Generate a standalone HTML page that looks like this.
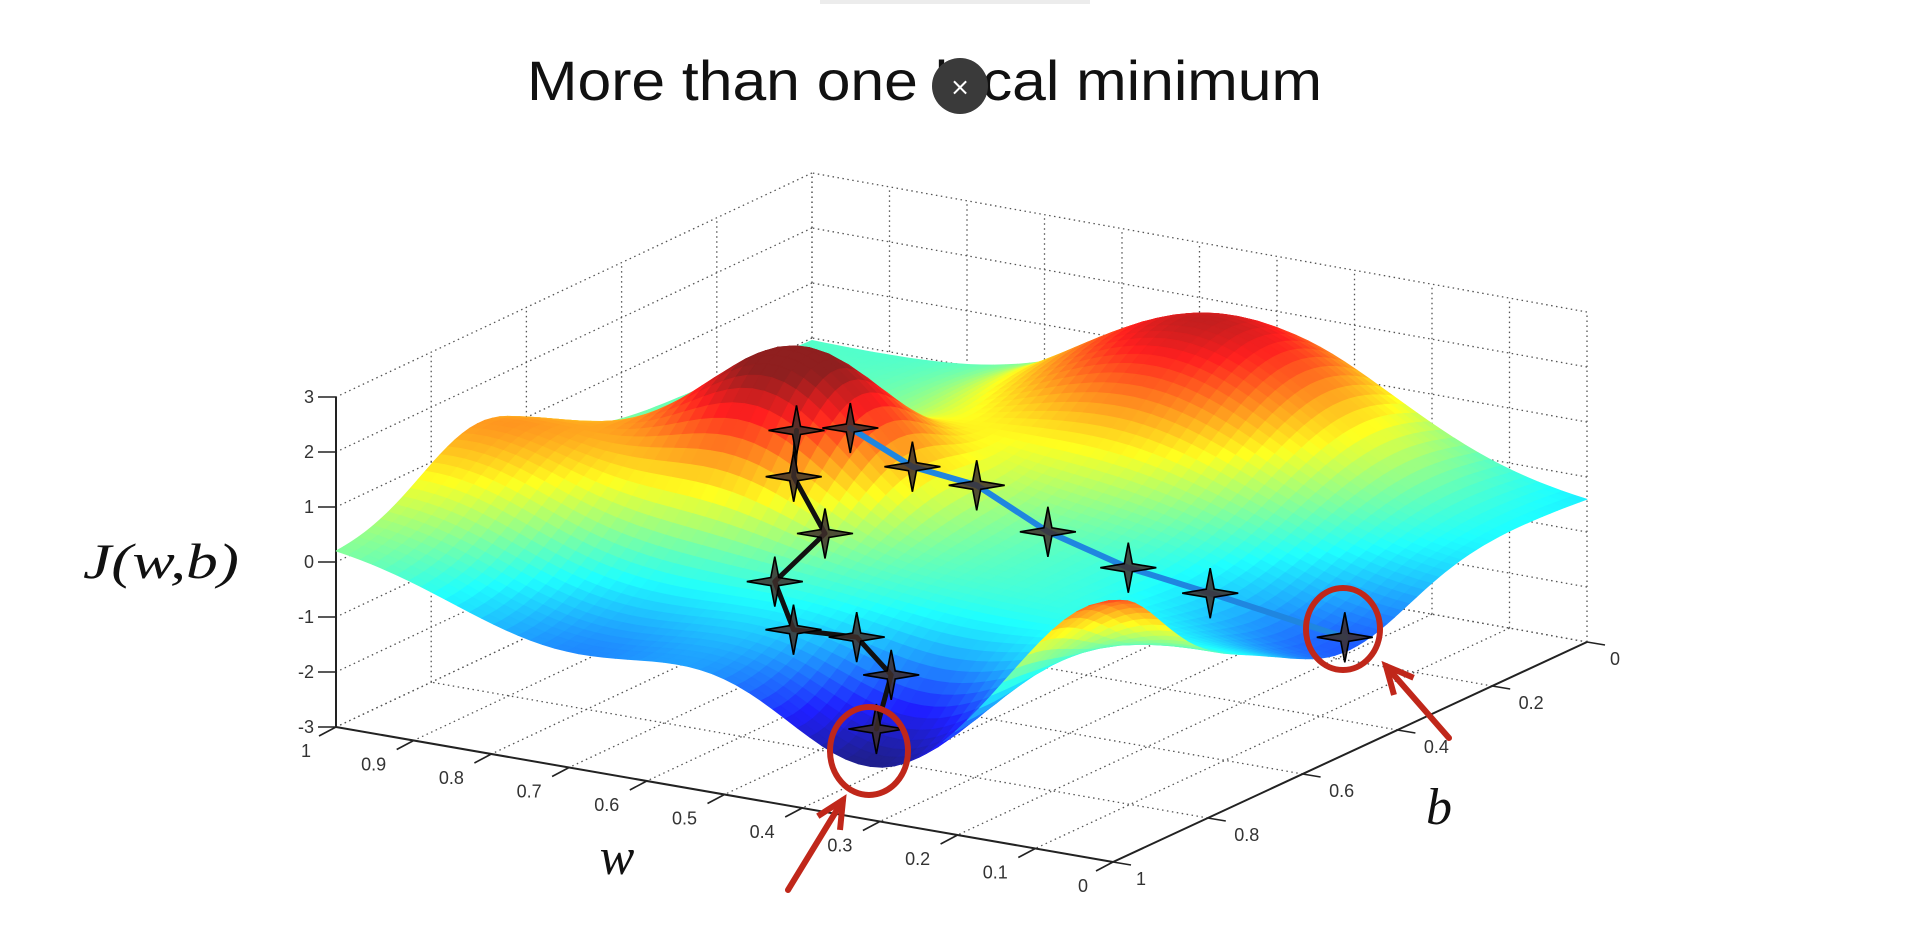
<!DOCTYPE html>
<html><head><meta charset="utf-8"><title>More than one local minimum</title>
<style>
html,body{margin:0;padding:0;background:#fff;}
svg{display:block;}
</style></head>
<body>
<svg id="chart" width="1920" height="926" viewBox="0 0 1920 926" xmlns="http://www.w3.org/2000/svg">
<rect x="820" y="0" width="270" height="4" fill="#ececec"/>
<text x="527" y="100" textLength="795" lengthAdjust="spacingAndGlyphs" font-family="Liberation Sans, sans-serif" font-size="56" fill="#111">More than one local minimum</text>
<g>
<circle cx="960" cy="86" r="28" fill="#3a3a3a"/>
<text x="960" y="95" text-anchor="middle" font-family="DejaVu Sans, sans-serif" font-size="24" fill="#fff">×</text>
</g>
<g id="grid"></g>
<g id="axes"></g>
<g id="surface"></g>
<g id="paths"></g>
<g id="annot"></g>
<text x="83" y="578" textLength="156" lengthAdjust="spacingAndGlyphs" font-family="Liberation Serif, serif" font-style="italic" font-size="50" fill="#111">J(w,b)</text>
<text x="617" y="874" text-anchor="middle" font-family="Liberation Serif, serif" font-style="italic" font-size="52" fill="#111">w</text>
<text x="1439" y="824" text-anchor="middle" font-family="Liberation Serif, serif" font-style="italic" font-size="52" fill="#111">b</text>
</svg>
<script>
// ---- data ----
const wTicks = [0,0.1,0.2,0.3,0.4,0.5,0.6,0.7,0.8,0.9,1];
const wTickLabels = ["0","0.1","0.2","0.3","0.4","0.5","0.6","0.7","0.8","0.9","1"];
const bTicks = [0,0.2,0.4,0.6,0.8,1];
const bTickLabels = ["0","0.2","0.4","0.6","0.8","1"];
const zTicks = [-3,-2,-1,0,1,2,3];
const zTickLabels = ["-3","-2","-1","0","1","2","3"];
// surface bumps (w, b, height, width)
const bumpW = [0.69, 0.42, 0.31, 0.0, 0.0, 0.97, 0.70];
const bumpB = [0.54, 0.11, 1.0, 0.51, 1.0, 0.70, 1.0];
const bumpAmp = [2.7, 2.5, -2.1, -0.9, 1.8, 1.15, -1.1];
const bumpSig = [0.11, 0.17, 0.12, 0.13, 0.10, 0.12, 0.15];
// base level at corners: (w=1,b=1), (w=0,b=1), (w=0,b=0), (w=1,b=0)
const cornerZ = [0.3, 0.0, -0.5, -0.05];
const colorMin = -2.0, colorMax = 2.5;
// descent paths
const blackW = [0.60,0.565,0.51,0.56,0.49,0.46,0.385,0.34];
const blackB = [0.685,0.748,0.772,0.796,0.871,0.787,0.837,0.942];
const blackZ = [2.1,1.6,0.8,-0.1,-0.5,-0.9,-1.2,-1.65];
const blueW = [0.56,0.485,0.426,0.393,0.29,0.19,0.0];
const blueB = [0.637,0.629,0.590,0.494,0.493,0.484,0.511];
const blueZ = [2.05,1.5,1.15,0.0,-0.4,-0.65,-0.87];

// ---- projection ----
const CA=[336,727], CB=[1113,862], CC=[1587,642], CD=[812,503];
const ZU = 55;
function floorPt(w,b){
  const x=(1-w)*(1-b)*CC[0]+w*(1-b)*CD[0]+(1-w)*b*CB[0]+w*b*CA[0];
  const y=(1-w)*(1-b)*CC[1]+w*(1-b)*CD[1]+(1-w)*b*CB[1]+w*b*CA[1];
  return [x,y];
}
function proj(w,b,z){const p=floorPt(w,b);return [p[0],p[1]-(z+3)*ZU];}
function J(w,b){
  let z=(w*b)*cornerZ[0]+((1-w)*b)*cornerZ[1]+((1-w)*(1-b))*cornerZ[2]+(w*(1-b))*cornerZ[3];
  for(let i=0;i<bumpW.length;i++){
    const d=(w-bumpW[i])**2+(b-bumpB[i])**2;
    z+=bumpAmp[i]*Math.exp(-d/(2*bumpSig[i]*bumpSig[i]));
  }
  return z;
}
function jet(t){
  t=Math.max(0,Math.min(1,t));
  const c=v=>Math.max(0,Math.min(1,v));
  let r=c(1.5-Math.abs(4*t-3)),g=c(1.5-Math.abs(4*t-2)),bl=c(1.5-Math.abs(4*t-1));
  const m=0.12;
  r=r*(1-m)+m;g=g*(1-m)+m;bl=bl*(1-m)+m;
  return `rgb(${Math.round(r*255)},${Math.round(g*255)},${Math.round(bl*255)})`;
}
const NS="http://www.w3.org/2000/svg";
function mk(tag,attrs,parent){const e=document.createElementNS(NS,tag);for(const k in attrs)e.setAttribute(k,attrs[k]);parent.appendChild(e);return e;}
const f1=v=>v.toFixed(1);

// ---- grid ----
const grid=document.getElementById('grid');
const dot={stroke:"#555","stroke-width":1.3,"stroke-dasharray":"1.5 3.5",fill:"none"};
function gline(p,q,name){const l=mk('line',Object.assign({x1:f1(p[0]),y1:f1(p[1]),x2:f1(q[0]),y2:f1(q[1])},dot),grid);

}
wTicks.forEach(w=>{ gline(proj(w,0,-3),proj(w,0,3),'back-wall-gridline'); gline(proj(w,0,-3),proj(w,1,-3),'floor-gridline'); });
bTicks.forEach(b=>{ gline(proj(1,b,-3),proj(1,b,3),'side-wall-gridline'); gline(proj(0,b,-3),proj(1,b,-3),'floor-gridline'); });
zTicks.forEach(z=>{ gline(proj(0,0,z),proj(1,0,z),'back-wall-gridline'); gline(proj(1,0,z),proj(1,1,z),'side-wall-gridline'); });

// ---- axes ----
const axes=document.getElementById('axes');
const solid={stroke:"#222","stroke-width":2,fill:"none"};
function aline(p,q,name,sw){const l=mk('line',Object.assign({x1:f1(p[0]),y1:f1(p[1]),x2:f1(q[0]),y2:f1(q[1])},solid),axes);if(sw)l.setAttribute('stroke-width',sw);

}
function label(x,y,txt,anchor,name){const t=mk('text',{x:f1(x),y:f1(y),"text-anchor":anchor,"font-family":"Liberation Sans, sans-serif","font-size":18,fill:"#333"},axes);t.textContent=txt;

}
aline(proj(1,1,-3),proj(1,1,3),'z-axis-line');
aline(proj(1,1,-3),proj(0,1,-3),'w-axis-line');
aline(proj(0,1,-3),proj(0,0,-3),'b-axis-line');
zTicks.forEach((z,i)=>{const p=proj(1,1,z);aline(p,[p[0]-18,p[1]],'z-tick',1.6);label(p[0]-22,p[1]+6,zTickLabels[i],'end','z-tick-label');});
wTicks.forEach((w,i)=>{const p=proj(w,1,-3);aline(p,[p[0]-17,p[1]+9],'w-tick',1.6);const s=wTickLabels[i];label(p[0]+(s.length>1?-40:-30),p[1]+30,s,'middle','w-tick-label');});
bTicks.forEach((b,i)=>{const p=proj(0,b,-3);aline(p,[p[0]+18,p[1]+3],'b-tick',1.6);const s=bTickLabels[i];label(p[0]+(s.length>1?39:28),p[1]+23,s,'middle','b-tick-label');});

// ---- surface ----
const surf=document.getElementById('surface');
const N=64, quads=[];
for(let i=0;i<N;i++)for(let j=0;j<N;j++){
  const w0=i/N,w1=(i+1)/N,b0=j/N,b1=(j+1)/N;
  const zs=[J(w0,b0),J(w1,b0),J(w1,b1),J(w0,b1)];
  const pts=[proj(w0,b0,zs[0]),proj(w1,b0,zs[1]),proj(w1,b1,zs[2]),proj(w0,b1,zs[3])];
  const wc=(w0+w1)/2,bc=(b0+b1)/2;
  const depth=floorPt(wc,bc)[1];
  const zc=(zs[0]+zs[1]+zs[2]+zs[3])/4;
  quads.push({pts,depth,zc});
}
quads.sort((a,b)=>a.depth-b.depth);
quads.forEach(q=>{const col=jet((q.zc-colorMin)/(colorMax-colorMin));
  const p=mk('polygon',{points:q.pts.map(p=>f1(p[0])+','+f1(p[1])).join(' '),fill:col,stroke:col,"stroke-width":0.8,"stroke-linejoin":"round"},surf);
  
  });

// ---- paths ----
const paths=document.getElementById('paths');
function drawPath(W,B,Z,color,width,name){
  const pts=W.map((w,i)=>proj(w,B[i],Z[i]));
  const pl=mk('polyline',{points:pts.map(p=>f1(p[0])+','+f1(p[1])).join(' '),fill:"none",stroke:color,"stroke-width":width,"stroke-linejoin":"round","stroke-linecap":"round"},paths);
  
  
  pts.forEach(p=>{const x=p[0],y=p[1];
    const d=`M${f1(x)},${f1(y-25)} L${f1(x+4)},${f1(y-4)} L${f1(x+28)},${f1(y)} L${f1(x+4)},${f1(y+4)} L${f1(x)},${f1(y+25)} L${f1(x-4)},${f1(y+4)} L${f1(x-28)},${f1(y)} L${f1(x-4)},${f1(y-4)} Z`;
    const s=mk('path',{d,fill:"#3e2e2a","fill-opacity":0.85,stroke:"#000","stroke-width":1.6},paths);
    
    });
}
drawPath(blueW,blueB,blueZ,"#1f86e0",6,'blue-path');
drawPath(blackW,blackB,blackZ,"#111",5,'black-path');

// ---- annotations ----
const an=document.getElementById('annot');
const red="#c0271a";
const e1=mk('ellipse',{cx:869,cy:751,rx:39,ry:44,fill:"none",stroke:red,"stroke-width":6},an);


const e2=mk('ellipse',{cx:1343,cy:629,rx:37,ry:41,fill:"none",stroke:red,"stroke-width":6},an);


function arrow(x1,y1,x2,y2,name){
  const g=mk('g',{},an);
  
  
  mk('line',{x1,y1,x2,y2,stroke:red,"stroke-width":6,"stroke-linecap":"round"},g);
  const a=Math.atan2(y2-y1,x2-x1),L=30,s=0.45;
  const p1=[x2-L*Math.cos(a-s),y2-L*Math.sin(a-s)],p2=[x2-L*Math.cos(a+s),y2-L*Math.sin(a+s)];
  mk('polyline',{points:`${f1(p1[0])},${f1(p1[1])} ${x2},${y2} ${f1(p2[0])},${f1(p2[1])}`,fill:"none",stroke:red,"stroke-width":6,"stroke-linejoin":"miter"},g);
}
arrow(788,890,843,800,'arrow-minimum-1');
arrow(1449,738,1386,666,'arrow-minimum-2');
</script>
</body></html>
